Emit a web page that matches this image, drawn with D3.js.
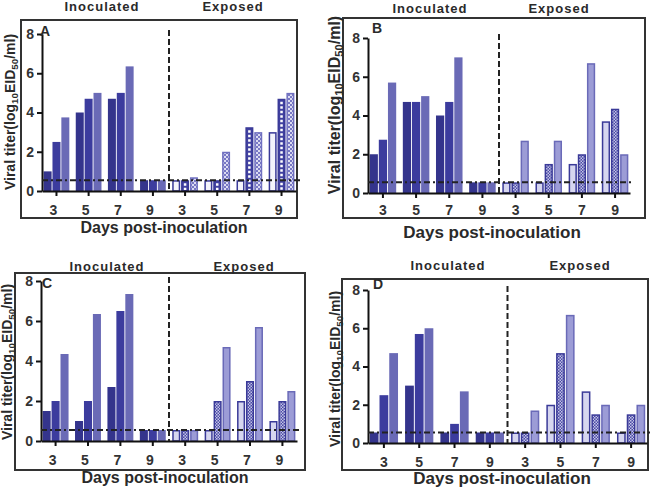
<!DOCTYPE html>
<html>
<head>
<meta charset="utf-8">
<script src="https://cdn.jsdelivr.net/npm/d3@7"></script>
<style>
  html, body { margin: 0; padding: 0; background: #fff; }
  svg { display: block; font-family: "Liberation Sans", Arial, sans-serif; }
</style>
</head>
<body>
<svg id="chart" width="650" height="487"></svg>
<script>
// ---------------- DATA ----------------
const days = ["3", "5", "7", "9"];
const groups = ["Inoculated", "Exposed"];
const yTicks = [0, 2, 4, 6, 8];
const detectionLimit = 0.55;

// values per day (3,5,7,9), three birds each
const A_inoculated = [[1.0, 2.5, 3.75], [4.0, 4.7, 5.0], [4.7, 5.0, 6.35], [0.55, 0.55, 0.55]];
const A_exposed    = [[0.55, 0.55, 0.7], [0.55, 0.55, 2.0], [0.55, 3.25, 3.0], [3.0, 4.7, 5.0]];
const B_inoculated = [[2.0, 2.75, 5.7], [4.7, 4.7, 5.0], [4.0, 4.7, 7.0], [0.55, 0.55, 0.55]];
const B_exposed    = [[0.55, 0.55, 2.7], [0.55, 1.5, 2.7], [1.5, 2.0, 6.7], [3.7, 4.35, 2.0]];
const C_inoculated = [[1.5, 2.0, 4.35], [1.0, 2.0, 6.35], [2.7, 6.5, 7.35], [0.55, 0.55, 0.55]];
const C_exposed    = [[0.55, 0.55, 0.55], [0.55, 2.0, 4.7], [2.0, 3.0, 5.7], [1.0, 2.0, 2.5]];
const D_inoculated = [[0.55, 2.5, 4.7], [3.0, 5.7, 6.0], [0.55, 1.0, 2.7], [0.55, 0.55, 0.55]];
const D_exposed    = [[0.55, 0.55, 1.7], [2.0, 4.7, 6.7], [2.7, 1.5, 2.0], [0.55, 1.5, 2.0]];

const panelLetters = ["A", "B", "C", "D"];

// ---------------- LAYOUT ----------------
const layouts = [
  { box: [21, 20, 297, 218], ax: 42, axR: 296, y0: 191, y8: 34, letter: [45, 36], inoc: [102, 11], exp: [233, 11],
    xt: [164, 233], yt: [10, 112], yFs: 14, xFs: 16, lblDx: -3, lblY: 215, A: true, data: [A_inoculated, A_exposed] },
  { box: [343, 18, 645, 218], ax: 368, axR: 630, y0: 193, y8: 38, letter: [377, 33], inoc: [430, 13], exp: [559, 13],
    xt: [492, 238], yt: [335, 105], yFs: 16, xFs: 17, lblDx: 0, lblY: 215, A: false, data: [B_inoculated, B_exposed] },
  { box: [15, 273, 305, 470], ax: 41, axR: 297, y0: 441, y8: 281, letter: [47, 288], inoc: [107, 271], exp: [244, 271],
    xt: [165, 483], yt: [7, 362], yFs: 14, xFs: 16, lblDx: -3, lblY: 465, A: false, data: [C_inoculated, C_exposed] },
  { box: [342, 279, 648, 470], ax: 368, axR: 647, y0: 443, y8: 290, letter: [378, 289], inoc: [448, 270], exp: [580, 270],
    xt: [502, 484], yt: [335, 369], yFs: 14, xFs: 17, lblDx: 0, lblY: 467, A: false, data: [D_inoculated, D_exposed] }
];

const svg = d3.select("#chart");
const defs = svg.append("defs");

// patterns
function checker(id, c1, c2, s) {
  const p = defs.append("pattern").attr("id", id).attr("patternUnits", "userSpaceOnUse")
    .attr("width", 2 * s).attr("height", 2 * s);
  p.append("rect").attr("width", 2 * s).attr("height", 2 * s).attr("fill", c1);
  p.append("rect").attr("width", s).attr("height", s).attr("fill", c2);
  p.append("rect").attr("x", s).attr("y", s).attr("width", s).attr("height", s).attr("fill", c2);
}
checker("chk", "#4a4aa6", "#c4c4e6", 1.5);
checker("chkA3", "#7878c4", "#dcdcf2", 2);

const inocFill = ["#34348c", "#3c3c9e", "#6a6ab6"];
const expFill = ["#d6d6ef", "url(#chk)", "#9c9cd6"];
const expStroke = ["#3a3a98", "#3a3a98", "#6a6ab8"];
const expFillA = ["#f4f4fb", "#4040a0", "url(#chkA3)"];
const expStrokeA = ["#3a3a98", "#3a3a98", "#7070c0"];

layouts.forEach((L, pi) => {
  const g = svg.append("g");
  // frame
  g.append("rect").attr("x", L.box[0]).attr("y", L.box[1])
    .attr("width", L.box[2] - L.box[0]).attr("height", L.box[3] - L.box[1])
    .attr("fill", "none").attr("stroke", "#333").attr("stroke-width", 2);

  const cats = [];
  groups.forEach(gr => days.forEach(d => cats.push(gr + "-" + d)));
  const x = d3.scaleBand().domain(cats).range([L.ax, L.axR]).paddingInner(0.2).paddingOuter(0.05);
  const xs = d3.scaleBand().domain([0, 1, 2]).range([0, x.bandwidth()]).paddingInner(0.1);
  const y = d3.scaleLinear().domain([0, 8]).range([L.y0, L.y8]);

  // bars
  const rows = [];
  L.data.forEach((series, gi) => series.forEach((vals, di) => vals.forEach((v, bi) => {
    rows.push({ cat: groups[gi] + "-" + days[di], gi, bi, v, di });
  })));

  g.selectAll("rect.bar").data(rows).join("rect").attr("class", "bar")
    .attr("x", d => x(d.cat) + xs(d.bi) + (d.gi ? 0.75 : 0))
    .attr("y", d => y(d.v) + (d.gi ? 0.75 : 0))
    .attr("width", d => xs.bandwidth() - (d.gi ? 1.5 : 0))
    .attr("height", d => Math.max(0, y(0) - y(d.v) - (d.gi ? 0.75 : 0)))
    .attr("fill", d => d.gi === 0 ? inocFill[d.bi] : (L.A ? expFillA[d.bi] : expFill[d.bi]))
    .attr("stroke", d => d.gi === 0 ? "none" : (L.A ? expStrokeA[d.bi] : expStroke[d.bi]))
    .attr("stroke-width", 1.5);

  // white dashes inside panel-A exposed bird 2 bars
  if (L.A) {
    g.selectAll("line.wd").data(rows.filter(r => r.gi === 1 && r.bi === 1)).join("line").attr("class", "wd")
      .attr("x1", d => x(d.cat) + xs(d.bi) + xs.bandwidth() / 2)
      .attr("x2", d => x(d.cat) + xs(d.bi) + xs.bandwidth() / 2)
      .attr("y1", d => y(d.v) + 3).attr("y2", y(0) - 1)
      .attr("stroke", "#fff").attr("stroke-width", 2.5).attr("stroke-dasharray", "2.5,2");
  }

  // y axis
  const yAxis = d3.axisLeft(y).tickValues(yTicks).tickSize(5).tickSizeOuter(0).tickPadding(3);
  const ya = g.append("g").attr("transform", `translate(${L.ax},0)`).call(yAxis);
  ya.select(".domain").attr("stroke", "#111").attr("stroke-width", 2);
  ya.selectAll(".tick line").attr("stroke", "#111").attr("stroke-width", 2);
  ya.selectAll(".tick text").attr("font-size", 14).attr("font-weight", "bold").attr("fill", "#333")
    .attr("font-family", "Liberation Sans, Arial, sans-serif");

  // x axis
  const xAxis = d3.axisBottom(x).tickSize(5).tickSizeOuter(0).tickFormat(c => c.split("-")[1]);
  const xa = g.append("g").attr("transform", `translate(0,${L.y0})`).call(xAxis);
  xa.select(".domain").attr("stroke", "#111").attr("stroke-width", 2);
  xa.selectAll(".tick line").attr("stroke", "#111").attr("stroke-width", 2);
  xa.selectAll(".tick text").attr("font-size", 14).attr("font-weight", "bold").attr("fill", "#333")
    .attr("font-family", "Liberation Sans, Arial, sans-serif")
    .attr("y", null).attr("dy", null)
    .attr("transform", `translate(${L.lblDx},${L.lblY - L.y0})`);

  // detection limit line
  g.append("line").attr("x1", L.ax).attr("x2", L.axR + 4)
    .attr("y1", y(detectionLimit)).attr("y2", y(detectionLimit))
    .attr("stroke", "#222").attr("stroke-width", 2).attr("stroke-dasharray", "6,3,2,3");

  // divider between groups
  const divX = (x("Inoculated-9") + x.bandwidth() + x("Exposed-3")) / 2;
  g.append("line").attr("x1", divX).attr("x2", divX)
    .attr("y1", L.y8 - 4).attr("y2", L.y0)
    .attr("stroke", "#222").attr("stroke-width", 2).attr("stroke-dasharray", "6,3");

  // texts
  const txt = (pos, s, fs, ls) => g.append("text").attr("x", pos[0]).attr("y", pos[1])
    .attr("text-anchor", "middle").attr("font-size", fs).attr("font-weight", "bold")
    .attr("fill", "#2a2a2a").attr("letter-spacing", ls || 0).text(s);
  txt(L.inoc, groups[0], 13, 1);
  txt(L.exp, groups[1], 13, 1);
  txt(L.xt, "Days post-inoculation", L.xFs, 0);
  g.append("text").attr("x", L.letter[0]).attr("y", L.letter[1]).attr("font-size", 14)
    .attr("font-weight", "bold").attr("fill", "#2a2a2a").attr("text-anchor", "middle").text(panelLetters[pi]);

  // y title with subscripts
  const yt = g.append("text").attr("transform", `translate(${L.yt[0] + 5},${L.yt[1]}) rotate(-90)`)
    .attr("text-anchor", "middle").attr("font-size", L.yFs).attr("font-weight", "bold").attr("fill", "#2a2a2a");
  yt.append("tspan").text("Viral titer(log");
  yt.append("tspan").attr("font-size", L.yFs * 0.7).attr("dy", 3).text("10");
  yt.append("tspan").attr("dy", -3).text("EID");
  yt.append("tspan").attr("font-size", L.yFs * 0.7).attr("dy", 3).text("50");
  yt.append("tspan").attr("dy", -3).text("/ml)");
});
</script>
</body>
</html>
